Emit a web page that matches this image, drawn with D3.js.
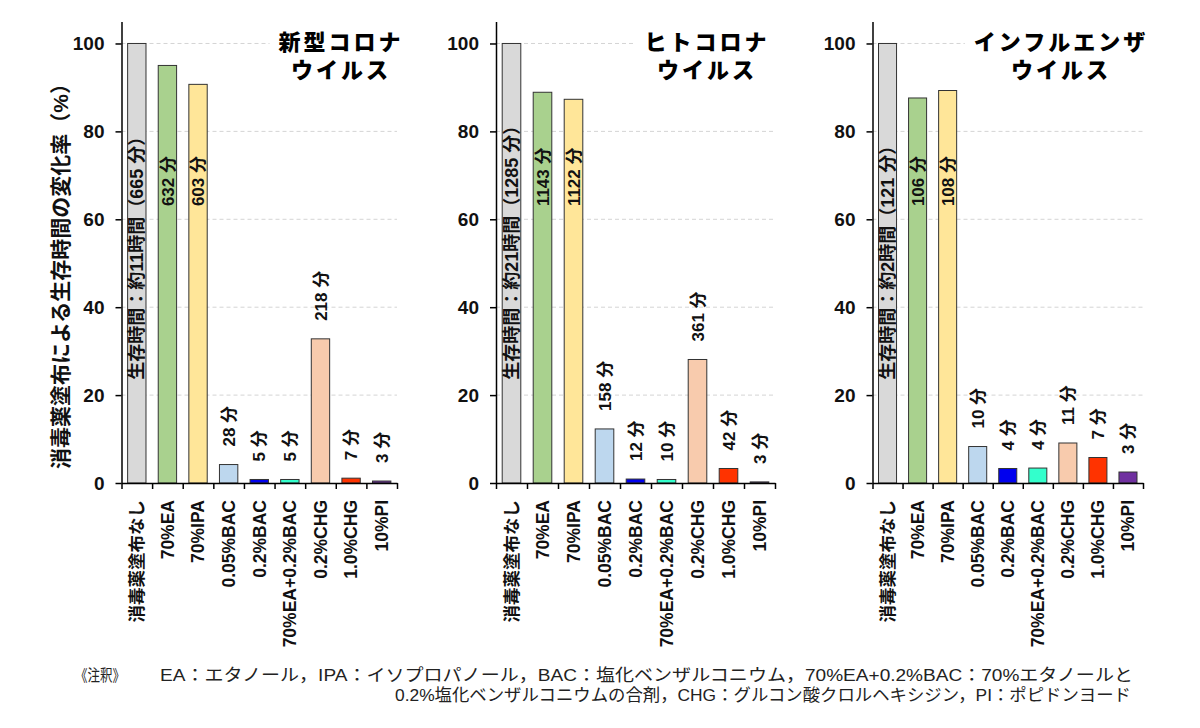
<!DOCTYPE html>
<html>
<head>
<meta charset="utf-8">
<script src="https://cdn.jsdelivr.net/npm/d3@7"></script>
<style>
  body { margin: 0; background: #fff; }
  svg { display: block; }
  text { font-family: "Liberation Sans", "Noto Sans CJK JP", sans-serif; }
</style>
</head>
<body>
<svg id="chart" width="1200" height="728"></svg>
<script>
// ---------------- data ----------------
const categories = ["消毒薬塗布なし", "70%EA", "70%IPA", "0.05%BAC", "0.2%BAC", "70%EA+0.2%BAC", "0.2%CHG", "1.0%CHG", "10%PI"];
const barColors = ["#d9d9d9", "#a9d18e", "#ffe699", "#bdd7ee", "#0000ee", "#33ffcc", "#f8cbad", "#ff3300", "#7030a0"];
const yTicks = [0, 20, 40, 60, 80, 100];

const sarsCov2Title = ["新型コロナ", "ウイルス"];
const sarsCov2Values = [100, 95.0, 90.7, 4.2, 0.8, 0.8, 32.8, 1.1, 0.45];
const sarsCov2Labels = ["生存時間：約11時間（665 分）", "632 分", "603 分", "28 分", "5 分", "5 分", "218 分", "7 分", "3 分"];

const hcovTitle = ["ヒトコロナ", "ウイルス"];
const hcovValues = [100, 88.9, 87.3, 12.3, 0.9, 0.8, 28.1, 3.3, 0.25];
const hcovLabels = ["生存時間：約21時間（1285 分）", "1143 分", "1122 分", "158 分", "12 分", "10 分", "361 分", "42 分", "3 分"];

const fluTitle = ["インフルエンザ", "ウイルス"];
const fluValues = [100, 87.6, 89.3, 8.3, 3.3, 3.4, 9.1, 5.8, 2.5];
const fluLabels = ["生存時間：約2時間（121 分）", "106 分", "108 分", "10 分", "4 分", "4 分", "11 分", "7 分", "3 分"];

const yAxisTitle = "消毒薬塗布による生存時間の変化率（%）";
const noteHead = "《注釈》";
const noteLine1 = "EA：エタノール，IPA：イソプロパノール，BAC：塩化ベンザルコニウム，70%EA+0.2%BAC：70%エタノールと";
const noteLine2 = "0.2%塩化ベンザルコニウムの合剤，CHG：グルコン酸クロルヘキシジン，PI：ポピドンヨード";

// ---------------- layout ----------------
const panels = [
  { title: sarsCov2Title, values: sarsCov2Values, labels: sarsCov2Labels, x0: 121.5, x1: 397, titleCx: 341 },
  { title: hcovTitle, values: hcovValues, labels: hcovLabels, x0: 496, x1: 775, titleCx: 707 },
  { title: fluTitle, values: fluValues, labels: fluLabels, x0: 872.5, x1: 1143, titleCx: 1061 }
];
const yBottom = 483, yTop = 21.5;

const svg = d3.select("#chart");
const y = d3.scaleLinear().domain([0, 105]).range([yBottom, yTop]);

panels.forEach(p => {
  const g = svg.append("g");
  const x = d3.scaleBand().domain(categories).range([p.x0, p.x1]).paddingInner(0.4).paddingOuter(0.2);
  const xb = d3.scaleLinear().domain([0, categories.length]).range([p.x0, p.x1]);

  // gridlines
  g.append("g").selectAll("line").data(yTicks.filter(t => t > 0)).join("line")
    .attr("x1", p.x0).attr("x2", p.x1)
    .attr("y1", d => y(d)).attr("y2", d => y(d))
    .attr("stroke", "#d4d4d4").attr("stroke-width", 1).attr("stroke-dasharray", "4,3");

  // title with white backing
  const tg = g.append("g");
  const bg = tg.append("rect").attr("fill", "#fff");
  const t1 = tg.append("text").attr("x", p.titleCx).attr("y", 50).attr("text-anchor", "middle")
    .attr("font-size", 22).attr("font-weight", 900).style("letter-spacing", "3px")
    .attr("font-family", "'Noto Sans CJK JP', sans-serif").text(p.title[0]);
  tg.append("text").attr("x", p.titleCx).attr("y", 78).attr("text-anchor", "middle")
    .attr("font-size", 22).attr("font-weight", 900).style("letter-spacing", "3px")
    .attr("font-family", "'Noto Sans CJK JP', sans-serif").text(p.title[1]);
  const bb = t1.node().getBBox();
  bg.attr("x", bb.x - 9).attr("y", bb.y - 2).attr("width", bb.width + 18).attr("height", 60);

  // bars
  g.append("g").selectAll("rect").data(p.values).join("rect")
    .attr("x", (d, i) => x(categories[i]))
    .attr("width", x.bandwidth())
    .attr("y", d => y(d))
    .attr("height", d => y(0) - y(d))
    .attr("fill", (d, i) => barColors[i])
    .attr("stroke", "#333").attr("stroke-width", 1);

  // bar labels
  g.append("g").selectAll("text").data(p.labels).join("text")
    .attr("transform", (d, i) => {
      const cx = x(categories[i]) + x.bandwidth() / 2;
      let yy;
      if (i === 0) yy = y(23.5);
      else if (i < 3) yy = y(63);
      else yy = y(p.values[i]) - 18;
      return `translate(${cx},${yy}) rotate(-90)`;
    })
    .attr("dy", "0.36em")
    .attr("text-anchor", "start")
    .attr("font-size", (d, i) => i === 0 ? 18 : 17).attr("font-weight", "bold").attr("fill", "#111")
    .text(d => d);

  // y axis
  const ya = g.append("g").attr("transform", `translate(${p.x0},0)`)
    .call(d3.axisLeft(y).tickValues(yTicks).tickSize(6).tickSizeOuter(0).tickPadding(11));
  ya.select(".domain").attr("stroke", "#000").attr("stroke-width", 1.5);
  ya.selectAll(".tick line").attr("stroke", "#000").attr("stroke-width", 1.5);
  ya.selectAll(".tick text").attr("font-size", 19).attr("font-weight", "bold").attr("fill", "#111")
    .attr("font-family", "'Liberation Sans', sans-serif");

  // x axis
  const xa = g.append("g").attr("transform", `translate(0,${yBottom})`)
    .call(d3.axisBottom(xb).tickValues(d3.range(categories.length + 1)).tickSize(6).tickSizeOuter(0).tickFormat(""));
  xa.select(".domain").attr("stroke", "#000").attr("stroke-width", 1.5);
  xa.selectAll(".tick line").attr("stroke", "#000").attr("stroke-width", 1.5);

  // category labels
  g.append("g").selectAll("text").data(categories).join("text")
    .attr("transform", d => `translate(${x(d) + x.bandwidth() / 2},500) rotate(-90)`)
    .attr("dy", "0.36em")
    .attr("text-anchor", "end")
    .attr("font-size", 17.5).attr("font-weight", "bold").attr("fill", "#111")
    .text(d => d);
});

// y axis title
svg.append("text")
  .attr("transform", "translate(60,271) rotate(-90)")
  .attr("dy", "0.36em")
  .attr("text-anchor", "middle")
  .attr("font-size", 21).attr("font-weight", "bold").attr("fill", "#111")
  .attr("font-family", "'Noto Sans CJK JP', sans-serif")
  .text(yAxisTitle);

// footnote
svg.append("text").attr("x", 75).attr("y", 681)
  .attr("font-size", 16).attr("fill", "#222")
  .attr("font-family", "'Noto Sans CJK JP', sans-serif")
  .attr("textLength", 50).attr("lengthAdjust", "spacingAndGlyphs")
  .text(noteHead);
svg.append("text").attr("x", 160).attr("y", 681)
  .attr("font-size", 17).attr("fill", "#222")
  .attr("font-family", "'Noto Sans CJK JP', sans-serif")
  .attr("textLength", 973).attr("lengthAdjust", "spacingAndGlyphs")
  .text(noteLine1);
svg.append("text").attr("x", 395).attr("y", 701)
  .attr("font-size", 17).attr("fill", "#222")
  .attr("font-family", "'Noto Sans CJK JP', sans-serif")
  .attr("textLength", 736).attr("lengthAdjust", "spacingAndGlyphs")
  .text(noteLine2);
</script>
</body>
</html>
